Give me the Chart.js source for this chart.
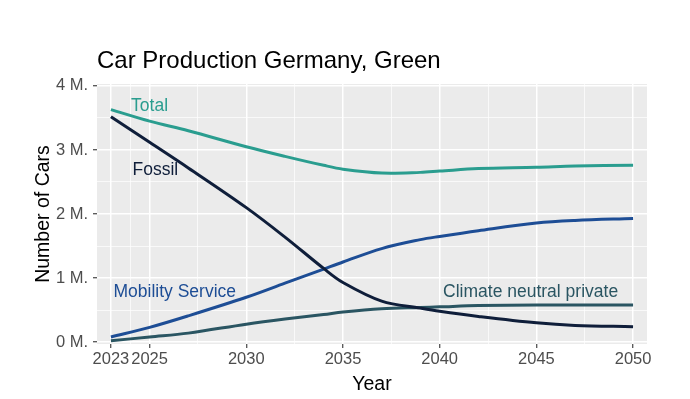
<!DOCTYPE html>
<html>
<head>
<meta charset="utf-8">
<script src="https://cdn.jsdelivr.net/npm/chart.js"></script>
<style>
  html, body { margin: 0; padding: 0; background: #fff; }
  #wrap { width: 690px; height: 399px; position: relative; }
</style>
</head>
<body>
<div id="wrap"><canvas id="cars"></canvas></div>
<script>
// data (millions of cars)
const years = [2023, 2025, 2027, 2030, 2032, 2034, 2035, 2037, 2039, 2040, 2042, 2045, 2047, 2050];
const total = [3.63, 3.45, 3.30, 3.05, 2.90, 2.76, 2.70, 2.64, 2.65, 2.67, 2.71, 2.73, 2.75, 2.76];
const fossil = [3.52, 3.12, 2.72, 2.10, 1.64, 1.15, 0.93, 0.64, 0.53, 0.48, 0.40, 0.30, 0.26, 0.24];
const mobility = [0.08, 0.23, 0.41, 0.70, 0.92, 1.14, 1.25, 1.46, 1.60, 1.65, 1.74, 1.86, 1.90, 1.93];
const climate = [0.02, 0.08, 0.14, 0.28, 0.36, 0.43, 0.47, 0.52, 0.54, 0.55, 0.57, 0.58, 0.58, 0.58];

const xMajor = [2023, 2025, 2030, 2035, 2040, 2045, 2050];
const xMinor = [2024, 2027.5, 2032.5, 2037.5, 2042.5, 2047.5];
const yMajor = [0, 1, 2, 3, 4];
const yMinor = [0.5, 1.5, 2.5, 3.5];

const seriesNames = ['Total', 'Fossil', 'Mobility Service', 'Climate neutral private'];
const seriesColors = ['#2a9d8f', '#0f1e3a', '#1d4d95', '#2a5562'];
// where each direct label sits, in data units
const labelX = [2025, 2025.3, 2026.3, 2044.7];
const labelY = [3.69, 2.69, 0.78, 0.78];

const pts = arr => arr.map((v, i) => ({ x: years[i], y: v }));
const allSeries = [total, fossil, mobility, climate];

const FONT = "'Liberation Sans', Arial, sans-serif";

const panelBg = {
  id: 'panelBg',
  beforeDraw(chart) {
    const { ctx, chartArea: a } = chart;
    ctx.save();
    ctx.fillStyle = '#ebebeb';
    ctx.fillRect(a.left, a.top, a.right - a.left, a.bottom - a.top);
    ctx.restore();
  }
};

const texts = {
  id: 'texts',
  afterDraw(chart) {
    const { ctx, chartArea: a, scales } = chart;
    ctx.save();
    // title
    ctx.fillStyle = '#000';
    ctx.font = '24px ' + FONT;
    ctx.textAlign = 'left';
    ctx.textBaseline = 'alphabetic';
    ctx.fillText('Car Production Germany, Green', a.left, 68);
    // axis titles
    ctx.font = '19.5px ' + FONT;
    ctx.textAlign = 'center';
    ctx.fillText('Year', (a.left + a.right) / 2, 390);
    ctx.translate(49, (a.top + a.bottom) / 2);
    ctx.rotate(-Math.PI / 2);
    ctx.fillText('Number of Cars', 0, 0);
    ctx.restore();

    // direct labels on the lines
    ctx.save();
    ctx.font = '17.5px ' + FONT;
    ctx.textAlign = 'center';
    ctx.textBaseline = 'middle';
    seriesNames.forEach((name, i) => {
      ctx.fillStyle = seriesColors[i];
      ctx.fillText(name, scales.x.getPixelForValue(labelX[i]), scales.y.getPixelForValue(labelY[i]));
    });
    ctx.restore();
  }
};

const isMajor = (list, v) => list.some(m => Math.abs(m - v) < 1e-6);

new Chart(document.getElementById('cars'), {
  type: 'line',
  data: {
    datasets: allSeries.map((s, i) => ({
      label: seriesNames[i],
      data: pts(s),
      borderColor: seriesColors[i],
      borderWidth: 3,
      pointRadius: 0,
      fill: false,
      tension: 0.35
    }))
  },
  options: {
    responsive: true,
    maintainAspectRatio: false,
    animation: false,
    layout: { padding: { top: 84, right: 43, left: 0, bottom: 0 } },
    plugins: {
      legend: { display: false },
      title: { display: false },
      tooltip: { enabled: false }
    },
    scales: {
      x: {
        type: 'linear',
        min: 2022.28,
        max: 2050.72,
        afterBuildTicks: s => { s.ticks = xMajor.concat(xMinor).sort((a, b) => a - b).map(v => ({ value: v })); },
        afterFit: s => { s.height = 55; },
        border: { display: false },
        grid: {
          color: '#ffffff',
          lineWidth: c => (c.tick && isMajor(xMajor, c.tick.value)) ? 1.5 : 0.7,
          tickColor: c => (c.tick && isMajor(xMajor, c.tick.value)) ? '#333333' : 'rgba(0,0,0,0)',
          tickWidth: 1.1,
          tickLength: 4
        },
        ticks: {
          autoSkip: false,
          maxRotation: 0,
          padding: 2,
          color: '#4d4d4d',
          font: { family: FONT, size: 16.5 },
          callback: v => isMajor(xMajor, v) ? String(v) : ''
        }
      },
      y: {
        min: -0.03,
        max: 4.03,
        afterBuildTicks: s => { s.ticks = yMajor.concat(yMinor).sort((a, b) => a - b).map(v => ({ value: v })); },
        afterFit: s => { s.width = 97; },
        border: { display: false },
        grid: {
          color: '#ffffff',
          lineWidth: c => (c.tick && isMajor(yMajor, c.tick.value)) ? 1.5 : 0.7,
          tickColor: c => (c.tick && isMajor(yMajor, c.tick.value)) ? '#333333' : 'rgba(0,0,0,0)',
          tickWidth: 1.1,
          tickLength: 4
        },
        ticks: {
          autoSkip: false,
          padding: 5,
          color: '#4d4d4d',
          font: { family: FONT, size: 16.5 },
          callback: v => isMajor(yMajor, v) ? v + ' M.' : ''
        }
      }
    }
  },
  plugins: [panelBg, texts]
});
</script>
</body>
</html>
